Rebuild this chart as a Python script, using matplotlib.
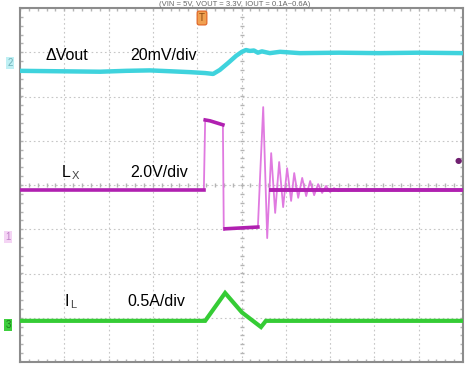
import numpy as np
import matplotlib
matplotlib.use("Agg")
import matplotlib.pyplot as plt

# ---- data (time in divisions, amplitude in screen divisions) ----
vout_t = [0.00, 0.90, 1.81, 2.40, 2.93, 3.40, 3.84, 4.18, 4.36, 4.51, 4.70, 4.88, 5.01,
          5.10, 5.19, 5.28, 5.37, 5.46, 5.64, 5.87, 6.32, 7.20, 8.10, 9.00, 10.00]
vout_v = [2.58, 2.57, 2.56, 2.58, 2.59, 2.57, 2.55, 2.53, 2.51, 2.60, 2.76, 2.92, 3.01,
          3.05, 3.03, 3.04, 2.99, 3.02, 2.98, 3.01, 2.98, 2.99, 2.98, 2.99, 2.98]

lx_t = [0.00, 4.15, 4.18, 4.29, 4.58, 4.60, 4.63, 5.37, 5.42, 5.49, 5.58, 5.67, 5.76,
        5.85, 5.94, 6.03, 6.12, 6.19, 6.28, 6.37, 6.46, 6.55, 6.64, 6.73, 6.82, 6.91,
        7.00, 7.09, 7.18, 7.34, 10.00]
lx_v = [-0.11, -0.11, 1.47, 1.45, 1.36, -1.02, -0.99, -0.95, 0.20, 1.76, -1.20, 0.72, -0.63,
        0.52, -0.50, 0.38, -0.36, 0.27, -0.29, 0.16, -0.25, 0.09, -0.23, 0.02, -0.18, -0.02,
        -0.16, -0.07, -0.14, -0.11, -0.11]

il_t = [0.00, 4.18, 4.63, 5.01, 5.44, 5.55, 10.00]
il_v = [-3.07, -3.07, -2.44, -2.88, -3.21, -3.07, -3.07]

labels = ["ΔVout", "L", "I"]
subs = ["", "X", "L"]
scales = ["20mV/div", "2.0V/div", "0.5A/div"]
title = "(VIN = 5V, VOUT = 3.3V, IOUT = 0.1A~0.6A)"

W, H = 470, 365
fig = plt.figure(figsize=(W / 100, H / 100), dpi=100)
fig.patch.set_facecolor("white")
ax = fig.add_axes([20 / W, 1 - 362 / H, 443 / W, 354 / H])
ax.set_xlim(0, 10)
ax.set_ylim(-4, 4)
ax.set_xticks([])
ax.set_yticks([])
for s in ax.spines.values():
    s.set_color("#8c8c8c")
    s.set_linewidth(1.5)

# grid
gc = "#c6c6c6"
for i in range(1, 10):
    ax.axvline(i, color=gc, lw=0.8, ls=(0, (1.5, 2.5)), zorder=1)
for j in range(-3, 4):
    ax.axhline(j, color=gc, lw=0.8, ls=(0, (1.5, 2.5)), zorder=1)
# centre axes with minor ticks
mx = np.arange(0, 10.001, 0.2)
my = np.arange(-4, 4.001, 0.2)
tc = "#b4b4b4"
ax.plot(mx, np.zeros_like(mx), ls="none", marker="|", ms=3, color=tc, zorder=1)
ax.plot(np.full_like(my, 5.0), my, ls="none", marker="_", ms=3, color=tc, zorder=1)
ax.plot(mx, np.full_like(mx, 3.97), ls="none", marker="|", ms=3, color=tc, zorder=1)
ax.plot(mx, np.full_like(mx, -3.97), ls="none", marker="|", ms=3, color=tc, zorder=1)
ax.plot(np.full_like(my, 0.03), my, ls="none", marker="_", ms=3, color=tc, zorder=1)
ax.plot(np.full_like(my, 9.97), my, ls="none", marker="_", ms=3, color=tc, zorder=1)

# traces
cyan = "#3fd3dd"
mag = "#b020b0"
pink = "#e07ae0"
green = "#35cc35"
ax.plot(vout_t, vout_v, color=cyan, lw=3.2, solid_joinstyle="round", zorder=4)

ax.plot(lx_t, lx_v, color=pink, lw=1.3, zorder=3)
ax.plot(lx_t[0:2], lx_v[0:2], color=mag, lw=2.6, zorder=4)
ax.plot(lx_t[2:5], lx_v[2:5], color=mag, lw=2.6, zorder=4)
ax.plot(lx_t[6:8], lx_v[6:8], color=mag, lw=2.6, zorder=4)
ax.plot([lx_t[11], lx_t[-1]], [lx_v[-1], lx_v[-1]], color=mag, lw=2.8, zorder=4)

ax.plot(il_t, il_v, color=green, lw=3.0, solid_joinstyle="miter", zorder=4)


def fp(x, y):
    return x / W, 1 - y / H


fs = 11.5
tf = "Liberation Sans"
# labels
rows_y = [56, 172, 301]
lab_x = [45, 62, 64]
for k in range(3):
    fig.text(*fp(lab_x[k], rows_y[k]), labels[k], fontsize=fs, family=tf, va="center", ha="left")
    fig.text(*fp(130 if k < 2 else 127, rows_y[k]), scales[k], fontsize=fs, family=tf,
             va="center", ha="left")
fig.text(*fp(72, 176), subs[1], fontsize=8, family=tf, va="center", ha="left", color="#444444")
fig.text(*fp(70, 305), subs[2], fontsize=8, family=tf, va="center", ha="left", color="#444444")

# channel markers
fig.text(*fp(10, 63), "2", fontsize=7, family=tf, ha="center", va="center", color="#6fb0b8",
         bbox=dict(boxstyle="square,pad=0.15", fc="#bff0f4", ec="none"))
fig.text(*fp(8, 237), "1", fontsize=7, family=tf, ha="center", va="center", color="#c080c8",
         bbox=dict(boxstyle="square,pad=0.15", fc="#f4d4f4", ec="none"))
fig.text(*fp(8, 325), "3", fontsize=7, family=tf, ha="center", va="center", color="#1e7a1e",
         bbox=dict(boxstyle="square,pad=0.15", fc="#3ecf3e", ec="none"))
# trigger marker
fig.text(*fp(202, 18), "T", fontsize=7, family=tf, ha="center", va="center", color="#8a4a10",
         bbox=dict(boxstyle="round,pad=0.2", fc="#f0a050", ec="#e06020", lw=0.8))
# magenta dot at right
fig.text(*fp(458, 160), "●", fontsize=6, family="DejaVu Sans", ha="center", va="center",
         color="#702070")
# title at top
fig.text(*fp(235, 0.5), title, fontsize=5.5, family=tf, ha="center", va="top", color="#666666")

fig.savefig("out.png", dpi=100, facecolor="white")
